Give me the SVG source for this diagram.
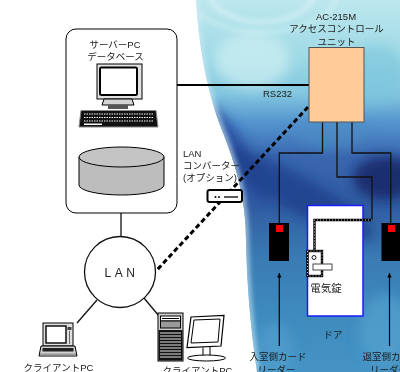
<svg xmlns="http://www.w3.org/2000/svg" width="400" height="372" viewBox="0 0 400 372">
  <defs>
    <style>
      .lbl { font-family: "Liberation Sans", "Noto Sans CJK JP", sans-serif; font-size: 9.5px; fill: #1a1a1a; text-anchor: middle; }
      .lft { text-anchor: start; }
      .wire { fill: none; stroke: #111; stroke-width: 1.3; }
      .ink { stroke: #000; stroke-width: 1; }
      .dotted-black { fill: none; stroke: #000; stroke-width: 2.4; }
      .dotted-white { fill: none; stroke: #fff; stroke-width: 0.8; stroke-dasharray: 1 2; }
    </style>
    <clipPath id="wave">
      <path d="M196,0 C199,50 208,95 222,130 C236,165 246,200 246,240 C247,290 251,330 257,372 L400,372 L400,0 Z"/>
    </clipPath>
    <linearGradient id="sky" x1="0" y1="0" x2="0" y2="372" gradientUnits="userSpaceOnUse">
      <stop offset="0" stop-color="#bde7ee"/>
      <stop offset="0.15" stop-color="#9fdae6"/>
      <stop offset="0.25" stop-color="#84c7df"/>
      <stop offset="0.33" stop-color="#5394ce"/>
      <stop offset="0.42" stop-color="#3a67b0"/>
      <stop offset="0.55" stop-color="#315ca2"/>
      <stop offset="0.7" stop-color="#3a7cb4"/>
      <stop offset="0.85" stop-color="#3e8bbe"/>
      <stop offset="1" stop-color="#4594c5"/>
    </linearGradient>
    <filter id="soft" x="-30%" y="-30%" width="160%" height="160%">
      <feGaussianBlur stdDeviation="6"/>
    </filter>
    <filter id="haze" x="-10%" y="-10%" width="120%" height="120%">
      <feGaussianBlur stdDeviation="2.5"/>
    </filter>
    <marker id="tip" viewBox="0 0 6 8" refX="6" refY="3" markerWidth="8" markerHeight="6" markerUnits="userSpaceOnUse" orient="auto">
      <path d="M0,0 L6,3 L0,6 Z" fill="#000"/>
    </marker>
  </defs>

  <!-- backdrop -->
  <rect width="400" height="372" fill="#fff"/>
  <g id="backdrop" clip-path="url(#wave)">
    <rect x="180" y="0" width="220" height="372" fill="url(#sky)"/>
    <g filter="url(#soft)">
      <ellipse cx="238" cy="155" rx="55" ry="12" transform="rotate(60 238 155)" fill="#22439a" opacity="0.75"/>
      <ellipse cx="300" cy="195" rx="85" ry="18" transform="rotate(30 300 195)" fill="#1f3d88" opacity="0.7"/>
      <ellipse cx="385" cy="178" rx="32" ry="22" fill="#15296a" opacity="0.9"/>
      <ellipse cx="330" cy="130" rx="35" ry="18" fill="#4d8cc4" opacity="0.6"/>
      <ellipse cx="375" cy="75" rx="30" ry="30" fill="#79c4dc" opacity="0.6"/>
      <ellipse cx="385" cy="330" rx="26" ry="36" fill="#5aa8d2" opacity="0.55"/>
      <ellipse cx="275" cy="350" rx="18" ry="28" fill="#56a6d2" opacity="0.5"/>
      <ellipse cx="252" cy="60" rx="38" ry="28" fill="#cdeef2" opacity="0.7"/>
    </g>
    <g filter="url(#haze)" fill="none">
      <ellipse cx="262" cy="-8" rx="52" ry="30" stroke="#eefafb" stroke-width="3" opacity="0.7"/>
      <ellipse cx="262" cy="-8" rx="75" ry="40" stroke="#eefafb" stroke-width="3" opacity="0.45"/>
      <path d="M196,0 C199,50 208,95 222,130 C236,165 246,200 246,240 C247,290 251,330 257,372" stroke="#cfe9f5" stroke-width="5" opacity="0.75"/>
    </g>
  </g>

  <!-- connectors -->
  <g id="connectors">
    <line x1="142" y1="85" x2="309" y2="85" stroke="#000" stroke-width="2.2"/>
    <line x1="121" y1="213" x2="121" y2="236.5" stroke="#111" stroke-width="1.3"/>
    <line x1="97" y1="300" x2="77" y2="323" stroke="#111" stroke-width="1.3"/>
    <line x1="144" y1="298" x2="159" y2="316" stroke="#111" stroke-width="1.3"/>
    <line x1="308" y1="107" x2="157" y2="270" stroke="#000" stroke-width="3" stroke-dasharray="5 3"/>
    <path class="wire" d="M322.5,122 V153 H279.3 V223"/>
    <path class="wire" d="M337,122 V177 H372 V220"/>
    <path class="wire" d="M352,122 V153 H390.7 V223"/>
    <line x1="279.3" y1="346" x2="279.3" y2="273" stroke="#000" stroke-width="1.2" marker-end="url(#tip)"/>
    <line x1="389.5" y1="346" x2="389.5" y2="273" stroke="#000" stroke-width="1.2" marker-end="url(#tip)"/>
  </g>

  <!-- server PC and database -->
  <g id="server">
    <rect x="66" y="29" width="111" height="184" rx="10" fill="#fff" stroke="#000" stroke-width="1"/>
    <text class="lbl" x="115" y="48">サーバーPC</text>
    <text class="lbl" x="115.5" y="60">データベース</text>
    <!-- monitor -->
    <rect x="97" y="64" width="45" height="35" fill="#e2e2e2" class="ink"/>
    <rect x="100" y="67.5" width="37" height="27.5" rx="1.5" fill="#fff" stroke="#000" stroke-width="2"/>
    <path d="M104,99 L132,99 L134,105 L102,105 Z" fill="#d4d4d4" class="ink"/>
    <rect x="108" y="105" width="20" height="4" fill="#555"/>
    <!-- keyboard -->
    <path d="M81,110.5 L156,110.5 L158,127 L79,127 Z" fill="#111" stroke="#888" stroke-width="1"/>
    <g stroke="#fff" stroke-width="1" stroke-dasharray="1.5 1">
      <line x1="84" y1="114" x2="154" y2="114"/>
      <line x1="84" y1="117.5" x2="154" y2="117.5"/>
      <line x1="84" y1="121" x2="154" y2="121"/>
    </g>
    <rect x="84" y="123.5" width="18" height="1.5" fill="#fff"/>
    <!-- database cylinder -->
    <path d="M79,157 V185 A42.5,10 0 0 0 164,185 V157" fill="#bdbdbd" class="ink"/>
    <ellipse cx="121.5" cy="157" rx="42.5" ry="10" fill="#c4c4c4" class="ink"/>
  </g>

  <!-- LAN hub -->
  <g id="lan">
    <circle cx="120" cy="272" r="35.5" fill="#fff" stroke="#111" stroke-width="1.3"/>
    <text x="121.5" y="277" style="font-family: 'Liberation Sans', sans-serif; font-size: 12px; letter-spacing: 3.5px; fill: #222;" text-anchor="middle">LAN</text>
  </g>

  <!-- client laptop -->
  <g id="client-laptop">
    <rect x="43" y="323" width="30" height="23" fill="#e0e0e0" class="ink"/>
    <rect x="46" y="326" width="20" height="17" fill="#fff" stroke="#000" stroke-width="1.4"/>
    <rect x="67.5" y="327" width="4" height="3" fill="#444"/>
    <line x1="69.5" y1="331" x2="69.5" y2="344" stroke="#666" stroke-width="1"/>
    <path d="M41,346 L75,346 L77,356 L39,356 Z" fill="#d0d0d0" class="ink"/>
    <rect x="42.5" y="348" width="31" height="3.5" fill="#222"/>
    <rect x="40" y="353.5" width="36" height="2" fill="#999"/>
    <text class="lbl" x="58.5" y="370.5">クライアントPC</text>
  </g>

  <!-- client desktop -->
  <g id="client-desktop">
    <rect x="158" y="313" width="25" height="48" fill="#cfcfcf" class="ink"/>
    <rect x="160.5" y="316" width="20" height="5" fill="#fff" class="ink"/>
    <rect x="160.5" y="321" width="20" height="7" fill="#9a9a9a" class="ink"/>
    <line x1="162" y1="318.5" x2="179" y2="318.5" stroke="#000" stroke-width="1"/>
    <rect x="158.5" y="330" width="24" height="30.5" fill="#111"/>
    <g stroke="#fff" stroke-width="0.9">
      <line x1="160" y1="333" x2="181" y2="333"/>
      <line x1="160" y1="336" x2="181" y2="336"/>
      <line x1="160" y1="339" x2="181" y2="339"/>
      <line x1="160" y1="342" x2="181" y2="342"/>
      <line x1="160" y1="345" x2="181" y2="345"/>
      <line x1="160" y1="348" x2="181" y2="348"/>
      <line x1="160" y1="351" x2="181" y2="351"/>
      <line x1="160" y1="354" x2="181" y2="354"/>
      <line x1="160" y1="357" x2="181" y2="357"/>
    </g>
    <path d="M191,317 L224,315.5 L221,346 L187,347.5 Z" fill="#fff" stroke="#000" stroke-width="1.2"/>
    <path d="M194,320 L220,319 L218,342 L191,343 Z" fill="#fff" stroke="#000" stroke-width="1"/>
    <line x1="203" y1="347.5" x2="203" y2="356" stroke="#000" stroke-width="1"/>
    <line x1="210" y1="347" x2="210" y2="356" stroke="#000" stroke-width="1"/>
    <ellipse cx="206.5" cy="358" rx="19" ry="3" fill="#fff" class="ink"/>
    <text class="lbl" x="197.5" y="373.5">クライアントPC</text>
  </g>

  <!-- LAN converter -->
  <g id="lan-converter">
    <text class="lbl lft" x="183" y="157">LAN</text>
    <text class="lbl lft" x="183" y="169">コンバーター</text>
    <text class="lbl lft" x="183" y="181">(オプション)</text>
    <rect x="207.5" y="190" width="34.5" height="12" rx="2" fill="#fff" stroke="#000" stroke-width="2"/>
    <circle cx="215.5" cy="197" r="1" fill="#000"/>
    <circle cx="219" cy="197" r="1" fill="#000"/>
    <line x1="224" y1="197" x2="238" y2="197" stroke="#000" stroke-width="1.3"/>
  </g>

  <!-- access control unit -->
  <g id="control-unit">
    <text class="lbl" x="336" y="19.5">AC-215M</text>
    <text class="lbl" x="336.5" y="32">アクセスコントロール</text>
    <text class="lbl" x="336.5" y="44.5">ユニット</text>
    <rect x="309" y="47.5" width="55" height="74.5" fill="#ffcc99" stroke="#555" stroke-width="1"/>
    <text class="lbl" x="277.5" y="97">RS232</text>
  </g>

  <!-- entry reader -->
  <g id="reader-in">
    <rect x="269" y="223" width="20" height="38" fill="#000"/>
    <rect x="276" y="225" width="7" height="7" fill="#f00"/>
    <text class="lbl" x="278" y="360">入室側カード</text>
    <text class="lbl" x="276.5" y="372.5">リーダー</text>
  </g>

  <!-- exit reader -->
  <g id="reader-out">
    <rect x="381.5" y="223" width="20" height="38" fill="#000"/>
    <rect x="388" y="225" width="7" height="7" fill="#f00"/>
    <text class="lbl" x="391" y="360">退室側カード</text>
    <text class="lbl" x="389" y="372.5">リーダー</text>
  </g>

  <!-- door with electric lock -->
  <g id="door">
    <rect x="307.5" y="205.5" width="55.5" height="110.5" fill="#fff" stroke="#1a1aff" stroke-width="1.5"/>
    <path class="dotted-black" d="M372,220 H314.5 V251"/>
    <path class="dotted-white" d="M372,220 H314.5 V251"/>
    <rect x="307.5" y="251" width="14.5" height="25" fill="#fff" class="dotted-black"/>
    <rect x="307.5" y="251" width="14.5" height="25" class="dotted-white"/>
    <circle cx="314" cy="257.5" r="2" fill="#fff" stroke="#000" stroke-width="0.9"/>
    <rect x="313" y="264" width="19" height="6" fill="#fff" stroke="#333" stroke-width="0.9"/>
    <text class="lbl" x="326" y="292" style="font-size: 10.5px;">電気錠</text>
    <text class="lbl" x="333" y="338">ドア</text>
  </g>
</svg>
